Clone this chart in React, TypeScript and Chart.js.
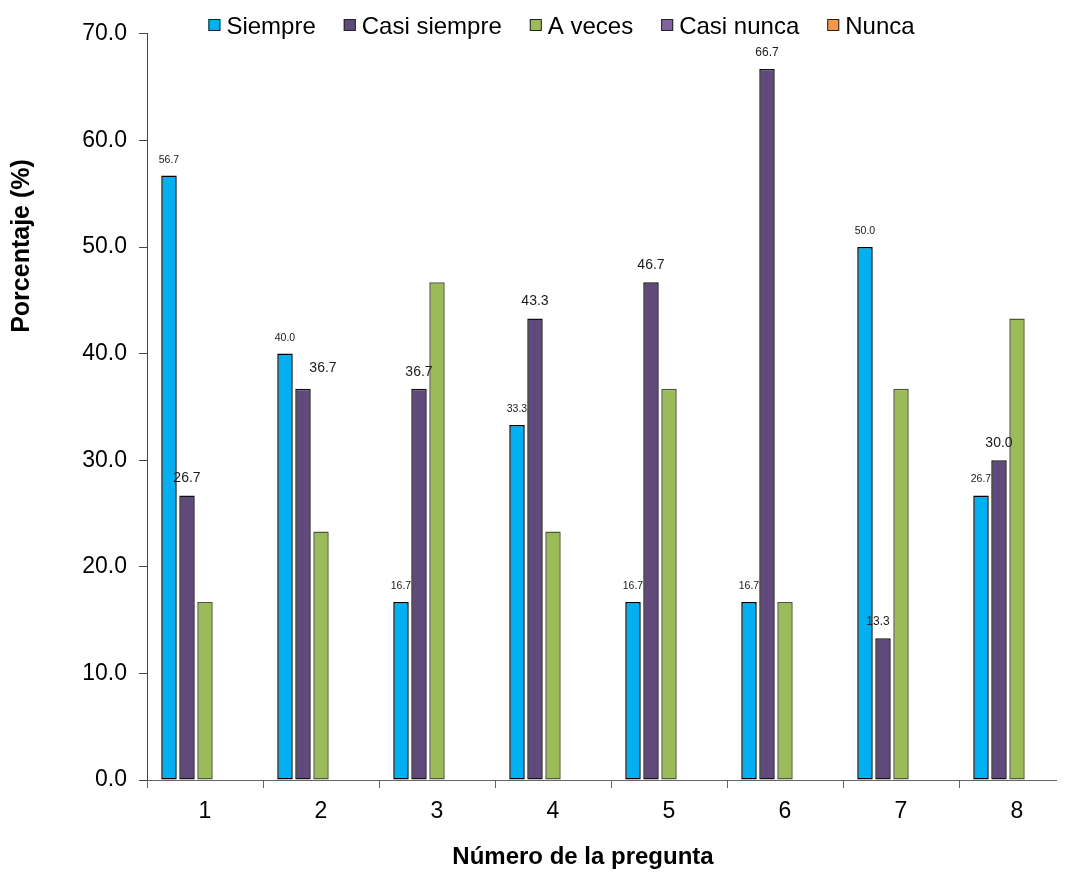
import React, { useEffect, useRef } from "react";
import { Chart, registerables } from "chart.js";

Chart.register(...registerables);

const categories = ["1", "2", "3", "4", "5", "6", "7", "8"];
const seriesNames = ["Siempre", "Casi siempre", "A veces", "Casi nunca", "Nunca"];
const siempre = [56.7, 40.0, 16.7, 33.3, 16.7, 16.7, 50.0, 26.7];
const casiSiempre = [26.7, 36.7, 36.7, 43.3, 46.7, 66.7, 13.3, 30.0];
const aVeces = [16.7, 23.3, 46.7, 23.3, 36.7, 16.7, 36.7, 43.3];
const casiNunca = [0, 0, 0, 0, 0, 0, 0, 0];
const nunca = [0, 0, 0, 0, 0, 0, 0, 0];
const yMin = 0;
const yMax = 70;
const yStep = 10;
const xTitle = "Número de la pregunta";
const yTitle = "Porcentaje (%)";

const FONT = "'Liberation Sans', Arial, sans-serif";
const fills = ["#00B0F0", "#5F4A7B", "#9BBB59", "#8064A2", "#F79646"];
const borders = ["#000000", "#111111", "#4d5a3a", "#3d3050", "#7a4a20"];

const overlayPlugin = {
  id: "overlay",
  afterDatasetsDraw(chart: any) {
    const ctx = chart.ctx;
    ctx.save();
    const labelSize = (di: number, i: number) => {
      if (di === 0) return 10.5;
      if (i === 5 || i === 6) return 12;
      return 14;
    };
    const labelShift = (di: number, i: number) => {
      if (di === 1 && i === 1) return [20, -4];
      if (di === 1 && i === 6) return [-5, 0];
      return [0, 0];
    };
    [0, 1].forEach((di) => {
      const meta = chart.getDatasetMeta(di);
      const vals = chart.data.datasets[di].data as number[];
      meta.data.forEach((bar: any, i: number) => {
        const [dx, dy] = labelShift(di, i);
        ctx.font = `${labelSize(di, i)}px ${FONT}`;
        ctx.fillStyle = "#1a1a1a";
        ctx.textAlign = "center";
        ctx.textBaseline = "alphabetic";
        ctx.fillText(vals[i].toFixed(1), bar.x + dx, bar.y - 13 + dy);
      });
    });
    ctx.restore();
  },
  afterDraw(chart: any) {
    const ctx = chart.ctx;
    ctx.save();
    // legend
    ctx.font = `24px ${FONT}`;
    const box = 12, gapText = 6, gapItem = 28;
    const widths = seriesNames.map((n) => ctx.measureText(n).width);
    const total = widths.reduce((s, w) => s + box + gapText + w, 0) + gapItem * (seriesNames.length - 1);
    let x = 553.5 - total / 2;
    const boxTop = 11;
    seriesNames.forEach((n, i) => {
      ctx.fillStyle = fills[i];
      ctx.fillRect(x, boxTop, box, box);
      ctx.strokeStyle = "#222";
      ctx.lineWidth = 1;
      ctx.strokeRect(x + 0.5, boxTop + 0.5, box - 1, box - 1);
      ctx.fillStyle = "#000";
      ctx.textAlign = "left";
      ctx.textBaseline = "middle";
      ctx.fillText(n, x + box + gapText, 19);
      x += box + gapText + widths[i] + gapItem;
    });
    // axis titles
    ctx.fillStyle = "#000";
    ctx.font = `bold 24px ${FONT}`;
    ctx.textAlign = "center";
    ctx.textBaseline = "middle";
    ctx.fillText(xTitle, 575, 849);
    ctx.translate(14, 238);
    ctx.rotate(-Math.PI / 2);
    ctx.font = `bold 25px ${FONT}`;
    ctx.fillText(yTitle, 0, 0);
    ctx.restore();
  },
};

export default function App() {
  const ref = useRef<HTMLCanvasElement>(null);
  useEffect(() => {
    if (!ref.current) return;
    const series = [siempre, casiSiempre, aVeces, casiNunca, nunca];
    const chart = new Chart(ref.current, {
      type: "bar",
      data: {
        labels: categories,
        datasets: series.map((d, i) => ({
          label: seriesNames[i],
          data: d,
          backgroundColor: fills[i],
          borderColor: borders[i],
          borderWidth: i < 3 ? 1.5 : 0,
          borderSkipped: false,
          categoryPercentage: 0.776,
          barPercentage: 0.86,
        })),
      },
      options: {
        animation: false,
        responsive: false,
        devicePixelRatio: 1,
        layout: { padding: { left: 0, right: 23, top: 24, bottom: 0 } },
        plugins: {
          legend: { display: false },
          tooltip: { enabled: false },
          title: { display: false },
        },
        scales: {
          x: {
            grid: {
              display: true,
              drawOnChartArea: false,
              drawTicks: true,
              tickLength: 8,
              color: "#666",
              offset: true,
            },
            border: { display: true, color: "#666", width: 1 },
            ticks: { color: "#000", font: { size: 23, family: FONT }, padding: 10 },
            afterFit: (s: any) => {
              s.height = 106;
            },
          },
          y: {
            min: yMin,
            max: yMax,
            grid: {
              display: true,
              drawOnChartArea: false,
              drawTicks: true,
              tickLength: 8,
              color: "#444",
            },
            border: { display: true, color: "#444", width: 1 },
            ticks: {
              stepSize: yStep,
              color: "#000",
              font: { size: 23, family: FONT },
              padding: 12,
              callback: (v: any) => Number(v).toFixed(1),
            },
            afterFit: (s: any) => {
              s.width = 139;
            },
          },
        },
      },
      plugins: [overlayPlugin],
    });
    return () => chart.destroy();
  }, []);
  return (
    <div style={{ width: 1049, height: 878, overflow: "hidden", position: "relative" }}>
      <canvas ref={ref} width={1090} height={878} style={{ width: 1090, height: 878, display: "block" }} />
    </div>
  );
}
